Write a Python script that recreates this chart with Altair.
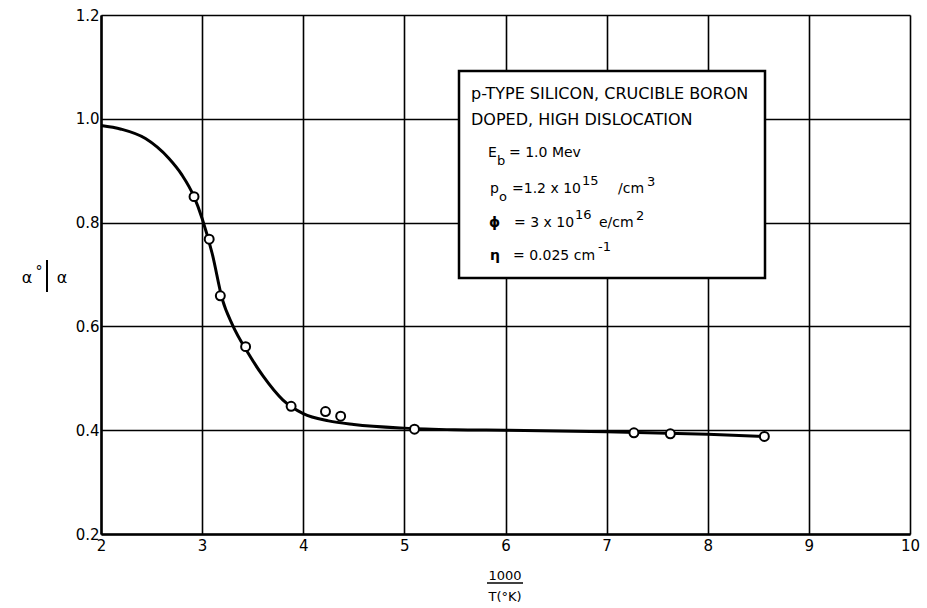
import altair as alt
import pandas as pd

FONT = "DejaVu Sans"

# Measured points: 1000/T (1/K) and alpha0/alpha
inv_temp = [2.92, 3.07, 3.18, 3.43, 3.88, 4.22, 4.37, 5.10, 7.27, 7.63, 8.56]
ratio = [0.850, 0.768, 0.659, 0.561, 0.446, 0.436, 0.427, 0.402, 0.395, 0.393, 0.388]

# Smooth curve through the measurements
curve_x = [2.0, 2.2, 2.44, 2.67, 2.8, 2.92, 3.0, 3.1, 3.2, 3.3, 3.45, 3.6, 3.8,
           4.0, 4.25, 4.5, 5.0, 5.5, 6.0, 7.0, 8.0, 8.56]
curve_y = [0.987, 0.980, 0.962, 0.924, 0.892, 0.850, 0.808, 0.740, 0.652, 0.603,
           0.550, 0.505, 0.458, 0.432, 0.418, 0.411, 0.404, 0.401, 0.400, 0.397,
           0.392, 0.388]

x_ticks = [2, 3, 4, 5, 6, 7, 8, 9, 10]
y_ticks = [0.2, 0.4, 0.6, 0.8, 1.0, 1.2]

pts = pd.DataFrame({"x": inv_temp, "y": ratio})
crv = pd.DataFrame({"x": curve_x, "y": curve_y})
one = pd.DataFrame({"k": [0]})

# plot-area origin in page pixels
OX, OY = 101, 15
W, H = 809, 519

xscale = alt.Scale(domain=[2, 10], nice=False, zero=False)
yscale = alt.Scale(domain=[0.2, 1.2], nice=False, zero=False)

xaxis = alt.Axis(values=x_ticks, title=None, grid=True, gridColor="black",
                 gridWidth=1.6, gridOpacity=1, ticks=False, domainColor="black",
                 domainWidth=2.5, labelFont=FONT, labelFontSize=15,
                 labelColor="black", labelPadding=4, labelFlush=False, format="d")
yaxis = alt.Axis(values=y_ticks, title=None, grid=True, gridColor="black",
                 gridWidth=1.6, gridOpacity=1, ticks=False, domainColor="black",
                 domainWidth=2.5, labelFont=FONT, labelFontSize=15,
                 labelColor="black", labelPadding=2, labelFlush=False, format=".1f")

curve = alt.Chart(crv).mark_line(color="black", strokeWidth=3, interpolate="monotone").encode(
    x=alt.X("x:Q", scale=xscale, axis=xaxis),
    y=alt.Y("y:Q", scale=yscale, axis=yaxis),
)

points = alt.Chart(pts).mark_point(shape="circle", filled=True, fill="white",
                                   stroke="black", strokeWidth=2, size=80,
                                   opacity=1).encode(
    x=alt.X("x:Q", scale=xscale),
    y=alt.Y("y:Q", scale=yscale),
)


def txt(s, px, py, size=14, align="left", baseline="alphabetic", weight="normal"):
    return alt.Chart(one).mark_text(
        align=align, baseline=baseline, font=FONT, fontSize=size, color="black",
        fontWeight=weight,
    ).encode(x=alt.value(px - OX), y=alt.value(py - OY), text=alt.value(s))


def hrule(x1, x2, py, width=1.5):
    return alt.Chart(one).mark_rule(color="black", strokeWidth=width).encode(
        x=alt.value(x1 - OX), x2=alt.value(x2 - OX), y=alt.value(py - OY),
    )


def vrule(px, y1, y2, width=2):
    return alt.Chart(one).mark_rule(color="black", strokeWidth=width).encode(
        x=alt.value(px - OX), y=alt.value(y1 - OY), y2=alt.value(y2 - OY),
    )


# framed box with the sample description
box = alt.Chart(one).mark_rect(fill="white", stroke="black", strokeWidth=2.5).encode(
    x=alt.value(459 - OX), x2=alt.value(765 - OX),
    y=alt.value(71 - OY), y2=alt.value(278 - OY),
)

notes = [
    txt("p-TYPE SILICON, CRUCIBLE BORON", 471, 99, size=16),
    txt("DOPED, HIGH DISLOCATION", 471, 125, size=16),
    # E_b
    txt("E", 488, 157),
    txt("b", 497, 165, size=13),
    txt("= 1.0 Mev", 509, 157),
    # p_o
    txt("p", 490, 193),
    txt("o", 499, 201, size=13),
    txt("=1.2 x 10", 512, 193),
    txt("15", 582, 185, size=13),
    txt("/cm", 618, 193),
    txt("3", 647, 186, size=13),
    # phi
    txt("ϕ", 489, 227, weight="bold"),
    txt("= 3 x 10", 514, 227),
    txt("16", 575, 219, size=13),
    txt("e/cm", 599, 227),
    txt("2", 636, 220, size=13),
    # eta
    txt("η", 490, 260, weight="bold"),
    txt("= 0.025 cm", 513, 260),
    txt("-1", 598, 251, size=13),
    # x-axis title as a fraction
    txt("1000", 505, 580, size=13, align="center"),
    hrule(487, 523, 583),
    txt("T(°K)", 505, 601, size=13, align="center"),
    # y-axis title: alpha0 | alpha
    txt("α", 27, 283, size=16, align="center"),
    txt("°", 39, 276, size=14, align="center"),
    vrule(47, 260, 292),
    txt("α", 62, 283, size=16, align="center"),
]

chart = alt.layer(curve, points, box, *notes).properties(
    width=W, height=H,
    autosize="none",
    padding={"left": OX, "top": OY, "right": 927 - OX - W, "bottom": 608 - OY - H},
).configure_view(stroke="black", strokeWidth=2.5).configure(background="white")

chart.save("out.html", embed_options={"renderer": "svg", "actions": False})
